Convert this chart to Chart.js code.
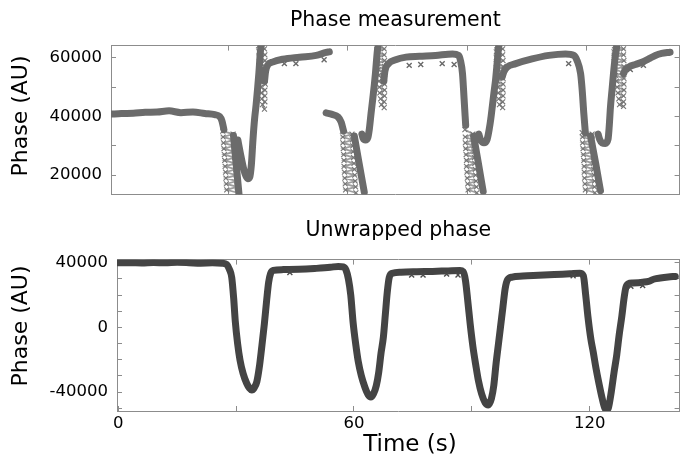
<!DOCTYPE html>
<html>
<head>
<meta charset="utf-8">
<script src="https://cdn.jsdelivr.net/npm/chart.js@4.4.1/dist/chart.umd.min.js"></script>
<style>
  html, body { margin: 0; padding: 0; background: #fff; }
  #wrap { position: relative; width: 685px; height: 461px; overflow: hidden; }
  canvas { position: absolute; left: 0; }
</style>
</head>
<body>
<div id="wrap">
  <canvas id="c1" width="685" height="200" style="top:0"></canvas>
  <canvas id="c2" width="685" height="261" style="top:200px"></canvas>
</div>
<script>
// ---------------- DATA ----------------
// Top panel: wrapped phase, main strands (null = break between strands)
const topStrandT = [
  0.4, 3, 6, 9, 12, 15, 18, 21, 24, 26.5, 27.7, 28.3, 28.8,
  28.8,
  31.2, 31.9, 32.6,
  32.6,
  32.3, 33.0, 33.7, 34.3, 34.8, 35.3, 35.7, 36.1, 36.5, 36.9, 37.3, 37.6, 38.0, 38.2,
  38.2,
  39.0, 39.3, 39.8, 41, 43.6, 47.8, 52, 54.5, 55.3,
  55.3,
  54.5, 56, 57.5, 58.3, 58.9,
  58.9,
  61.6, 62.8, 64.1,
  64.1,
  63.5, 63.8, 64.4, 65.0, 65.4, 65.8, 66.2, 66.6, 66.9, 67.4, 67.6,
  67.6,
  69.0, 69.3, 70.2, 72, 74.6, 78, 82, 86.3, 87.8, 88.3, 88.8, 89.2, 89.6,
  89.6,
  91.6, 92.8, 94.0,
  94.0,
  92.9, 93.3, 94.2, 95.0, 95.5, 95.9, 96.3, 96.7, 97.1, 97.5, 97.8, 97.95,
  97.95,
  98.8, 99.2, 100, 102.2, 106.3, 110.5, 114.7, 116.8, 117.6, 118.5, 118.9, 119.3, 119.7,
  119.7,
  121.0, 122.3, 123.5,
  123.5,
  122.9, 123.3, 123.9, 124.7, 125.4, 125.7, 126.0, 126.4, 126.8, 127.2, 127.6,
  127.6,
  129.3, 129.7, 130.6, 132.3, 133.9, 135.6, 137.3, 138.9, 141
];
const topStrandV = [
  40800, 41000, 41100, 41400, 41500, 41900, 41300, 41500, 41000, 40600, 40000, 38500, 35500,
  null,
  33500, 23500, 13400,
  null,
  32000, 27000, 22500, 19800, 18800, 19400, 23500, 32000, 39000, 44000, 50000, 55000, 62500, 64100,
  null,
  52000, 55500, 57500, 58500, 59500, 60200, 60800, 61800, 62000,
  null,
  41200, 40700, 39800, 38000, 35000,
  null,
  33300, 24000, 14200,
  null,
  34000, 32600, 32000, 32800, 36000, 41000, 45600, 50500, 54600, 62500, 64100,
  null,
  52000, 55500, 58000, 59300, 60200, 60500, 60800, 61300, 60800, 59000, 54600, 46000, 37000,
  null,
  33300, 24000, 14500,
  null,
  34000, 32200, 31000, 32200, 35500, 39000, 43400, 48000, 52300, 58000, 62500, 64100,
  null,
  53500, 55200, 56800, 58000, 59600, 60800, 61300, 60800, 59100, 54600, 49000, 41200, 34400,
  null,
  33300, 24000, 14700,
  null,
  34000, 32200, 31000, 30800, 32200, 36600, 43000, 49000, 55000, 60200, 63800,
  null,
  54600, 55700, 56800, 57700, 58500, 59600, 60800, 61500, 61900
];

// Top panel: noisy (scattered) stretches, null = break
const topNoiseT = [
  28.5, 31.1, 28.6, 31.2, 28.7, 31.3, 28.8, 31.4, 28.9, 31.5, 29.0, 31.7, 29.1, 31.8, 29.2, 31.9, 29.3, 32.0, 29.4, 32.1, 29.5, 32.2,
  32.2,
  37.5, 39.0, 37.6, 39.1, 37.7, 39.1, 37.8, 39.1, 37.9, 39.2, 38.0, 39.2, 38.0, 39.2, 38.1, 39.1, 38.2, 39.1, 38.3, 39.1, 38.5, 39.0,
  39.0,
  58.6, 61.0, 58.7, 61.1, 58.7, 61.2, 58.8, 61.3, 58.9, 61.4, 59.0, 61.5, 59.0, 61.6, 59.1, 61.7, 59.2, 61.8, 59.3, 61.9, 59.4, 62.0,
  62.0,
  67.2, 69.1, 67.3, 69.1, 67.4, 69.2, 67.5, 69.2, 67.6, 69.2, 67.7, 69.2, 67.8, 69.2, 67.9, 69.2, 68.0, 69.2, 68.2, 69.1, 68.4, 69.1,
  69.1,
  89.4, 91.4, 89.5, 91.5, 89.5, 91.6, 89.6, 91.7, 89.7, 91.8, 89.8, 91.9, 89.8, 92.0, 89.9, 92.1, 90.0, 92.2, 90.1, 92.3, 90.2, 92.4,
  92.4,
  97.4, 98.9, 97.3, 98.9, 97.3, 99.0, 97.3, 99.0, 97.4, 99.0, 97.5, 99.0, 97.6, 99.0, 97.7, 99.0, 97.8, 99.0, 97.9, 98.9, 98.1, 98.9,
  98.9,
  118.9, 121.4, 119.0, 121.5, 119.0, 121.5, 119.1, 121.6, 119.2, 121.7, 119.3, 121.7, 119.4, 121.8, 119.4, 121.9, 119.5, 122.0, 119.6, 122.0, 119.7, 122.1,
  122.1,
  127.0, 129.3, 126.9, 129.3, 126.9, 129.4, 127.0, 129.4, 127.1, 129.4, 127.3, 129.4, 127.5, 129.4, 127.7, 129.4, 127.9, 129.3, 128.1, 129.3, 128.3, 129.3
];
const topNoiseV = [
  35000, 34000, 33000, 32000, 31000, 30000, 29000, 28000, 27000, 26000, 25000, 24000, 23000, 22000, 21000, 20000, 19000, 18000, 17000, 16000, 15000, 14000,
  null,
  64000, 63000, 62000, 61000, 60000, 59000, 58000, 57000, 56000, 55000, 54000, 53000, 52000, 51000, 50000, 49000, 48000, 47000, 46000, 45000, 44000, 42500,
  null,
  35000, 34000, 33000, 32000, 31000, 30000, 29000, 28000, 27000, 26000, 25000, 24000, 23000, 22000, 21000, 20000, 19000, 18000, 17000, 16000, 15000, 14000,
  null,
  64000, 63000, 62000, 61000, 60000, 59000, 58000, 57000, 56000, 55000, 54000, 53000, 52000, 51000, 50000, 49000, 48000, 47000, 46000, 45000, 44000, 43000,
  null,
  35500, 34000, 33000, 32000, 31000, 30000, 29000, 28000, 27000, 26000, 25000, 24000, 23000, 22000, 21000, 20000, 19000, 18000, 17000, 16000, 15000, 14000,
  null,
  64000, 63000, 62000, 61000, 60000, 59000, 58000, 57000, 56000, 55000, 54000, 53000, 52000, 51000, 50000, 49000, 48000, 47000, 46000, 45000, 44000, 43000,
  null,
  34500, 34000, 33000, 32000, 31000, 30000, 29000, 28000, 27000, 26000, 25000, 24000, 23000, 22000, 21000, 20000, 19000, 18000, 17000, 16000, 15000, 14000,
  null,
  64000, 63000, 62000, 61000, 60000, 59000, 58000, 57000, 56000, 55000, 54000, 53000, 52000, 51000, 50000, 49000, 48000, 47000, 46000, 45000, 44000, 43400
];

// Top panel: isolated outlier points
const topOutT = [44.0, 46.9, 54.0, 75.4, 78.3, 83.7, 86.7, 115.5, 131.0, 134.3];
const topOutV = [58000, 58000, 59300, 57400, 57700, 58000, 57700, 58000, 56000, 57400];

// Bottom panel: unwrapped phase
const botT = [
  0, 3, 6, 9, 12, 15, 18, 21, 24, 26.5, 27.6, 28.3, 28.9, 29.4, 29.8, 30.4, 31.0, 31.8, 32.7, 33.4,
  34.0, 34.6, 35.3, 35.9, 36.5, 37.2, 37.8, 38.3, 38.8, 39.5, 42, 46, 50, 54, 56, 57.3, 58.0, 58.6,
  59.2, 59.8, 60.5, 61.1, 61.9, 62.8, 63.6, 64.3, 65.0, 65.7, 66.3, 66.9, 67.5, 68.0, 68.5, 69.0,
  69.8, 72, 76, 80, 84, 87, 87.8, 88.4, 89.0, 89.6, 90.3, 91.0, 91.7, 92.5, 93.4, 94.2, 95.0, 95.6,
  96.2, 96.8, 97.3, 97.9, 98.5, 99.1, 100.3, 103, 107, 111, 115, 117.5, 118.4, 119.0, 119.6, 120.3,
  120.9, 121.6, 122.4, 123.2, 123.8, 124.3, 124.8, 125.5, 126.2, 126.9, 127.5, 128.2, 128.7, 129.2,
  129.8, 131, 133.5, 135, 136.5, 138, 140, 141.8
];
const botV = [
  40000, 40100, 39900, 40200, 40000, 40300, 40100, 39800, 40000, 39800, 39000, 36000, 31000, 18000,
  4000, -10000, -20000, -28500, -34500, -37500,
  -38700, -37500, -33500, -25000, -13000, 2000, 17000, 28000, 33500, 35300, 35800, 36000, 36500,
  37200, 37800, 37500, 35500, 30000,
  20000, 3000, -11000, -21000, -30000, -37000, -41500, -43000, -41000, -36000, -28000, -16000,
  -6000, 8000, 22000, 31000,
  33500, 34200, 34500, 34700, 35000, 35200, 34500, 29000, 16000, 2000, -12000, -23000, -33000,
  -41000, -46500, -48000, -44000, -36000,
  -22000, -10000, 0, 12000, 24000, 29500, 31200, 31800, 32300, 32800, 33200, 33500, 32000, 20000,
  6000, -7000,
  -15000, -25000, -35000, -44000, -49500, -51000, -49500, -40000, -28000, -17000, -5000, 7000,
  17000, 24500,
  27000, 27500, 28000, 28500, 30000, 30600, 31200, 31600
];
const botOutT = [43.7, 74.7, 77.6, 83.6, 86.5, 115.8, 130.5, 133.5];
const botOutV = [34000, 32500, 32500, 33000, 32500, 32000, 25500, 26000];

// Ticks and labels
const topXTicks = [30, 60, 90, 120];
const botXTicks = [0, 30, 60, 90, 120];
const xLabeled = [0, 60, 120];
const topYTicks = [20000, 30000, 40000, 50000, 60000];
const topYLabeled = [20000, 40000, 60000];
const botYTicks = [-50000, -40000, -30000, -20000, -10000, 0, 10000, 20000, 30000, 40000];
const botYLabeled = [-40000, 0, 40000];
const yTitle = 'Phase (AU)';
const xTitle = 'Time (s)';

// ---------------- CHARTS ----------------
Chart.defaults.font.family = "'DejaVu Sans', 'Liberation Sans', sans-serif";
Chart.defaults.color = '#000';

const pts = (T, V) => T.map((t, i) => ({ x: t, y: V[i] }));
const FRAME = '#8c8c8c';

function noPad(s) { s.paddingTop = 0; s.paddingBottom = 0; s.paddingLeft = 0; s.paddingRight = 0; }

function axis(pos, min, max, tickVals, size, extra) {
  const horiz = pos === 'top' || pos === 'bottom';
  return Object.assign({
    type: 'linear', position: pos, min: min, max: max,
    afterBuildTicks: s => { s.ticks = tickVals.map(v => ({ value: v })); },
    afterFit: s => { if (horiz) s.height = size; else s.width = size; noPad(s); },
    grid: { display: true, drawOnChartArea: false, drawTicks: true, tickLength: -5, tickColor: FRAME, tickWidth: 1 },
    border: { display: true, color: FRAME, width: 1 },
    ticks: { display: false, autoSkip: false }
  }, extra);
}
const labelCb = list => v => (list.includes(v) ? String(v) : '');
const tickFont = { size: 16.5 };

// axis titles drawn as canvas text at the reference's positions
const axisTitles = {
  id: 'axisTitles',
  afterDraw(chart, args, opts) {
    const ctx = chart.ctx;
    (opts.items || []).forEach(it => {
      ctx.save();
      ctx.fillStyle = '#000';
      ctx.font = it.size + "px 'DejaVu Sans', sans-serif";
      ctx.textAlign = 'center';
      ctx.textBaseline = 'middle';
      ctx.translate(it.x, it.y);
      if (it.rot) ctx.rotate(it.rot);
      ctx.fillText(it.text, 0, 0);
      ctx.restore();
    });
  }
};

// Top chart
new Chart(document.getElementById('c1'), {
  type: 'line',
  plugins: [axisTitles],
  data: {
    datasets: [
      { data: pts(topOutT, topOutV), showLine: false, pointStyle: 'crossRot', pointRadius: 3.5,
        pointBorderWidth: 1.4, pointBorderColor: '#6a6a6a', clip: 0 },
      { data: pts(topStrandT, topStrandV), borderColor: '#6b6b6b', borderWidth: 7, pointRadius: 0,
        cubicInterpolationMode: 'monotone', borderCapStyle: 'round', borderJoinStyle: 'round', spanGaps: false, clip: 0 },
      { data: pts(topNoiseT, topNoiseV), borderColor: 'rgba(140,140,140,0.85)', borderWidth: 1.8, tension: 0,
        pointStyle: 'crossRot', pointRadius: 3.5, pointBorderWidth: 1.1, pointBorderColor: '#767676',
        spanGaps: false, clip: 0 }
    ]
  },
  options: {
    responsive: false, animation: false, devicePixelRatio: 1,
    layout: { padding: 0 },
    plugins: {
      legend: { display: false }, tooltip: { enabled: false },
      title: { display: true, fullSize: false, text: 'Phase measurement', color: '#000',
        font: { size: 20.5, weight: 'normal' }, padding: { top: 8, bottom: 13 } },
      axisTitles: { items: [{ text: yTitle, x: 21, y: 116, rot: -Math.PI / 2, size: 22 }] }
    },
    scales: {
      x: axis('bottom', 0.4, 143.4, topXTicks, 4, {}),
      x2: axis('top', 0.4, 143.4, topXTicks, 0, {}),
      y: axis('left', 13370, 64140, topYTicks, 111, {
        ticks: { display: true, autoSkip: false, callback: labelCb(topYLabeled), font: tickFont, color: '#000', padding: 14 }
      }),
      y2: axis('right', 13370, 64140, topYTicks, 4, {})
    }
  }
});

// Bottom chart
new Chart(document.getElementById('c2'), {
  type: 'line',
  plugins: [axisTitles],
  data: {
    datasets: [
      { data: pts(botOutT, botOutV), showLine: false, pointStyle: 'crossRot', pointRadius: 3.5,
        pointBorderWidth: 1.4, pointBorderColor: '#4a4a4a', clip: 0 },
      { data: pts(botT, botV), borderColor: '#444444', borderWidth: 7, pointRadius: 0,
        cubicInterpolationMode: 'monotone', borderCapStyle: 'round', borderJoinStyle: 'round', clip: 0 }
    ]
  },
  options: {
    responsive: false, animation: false, devicePixelRatio: 1,
    layout: { padding: 0 },
    plugins: {
      legend: { display: false }, tooltip: { enabled: false },
      title: { display: true, fullSize: false, text: 'Unwrapped phase', color: '#000',
        font: { size: 20.5, weight: 'normal' }, padding: { top: 18, bottom: 17 } },
      axisTitles: { items: [
        { text: yTitle, x: 21, y: 126, rot: -Math.PI / 2, size: 22 },
        { text: xTitle, x: 410, y: 245, rot: 0, size: 23 }
      ] }
    },
    scales: {
      x: axis('bottom', -0.3, 142.9, botXTicks, 50, {
        ticks: { display: true, autoSkip: false, maxRotation: 0, callback: labelCb(xLabeled), font: tickFont, color: '#000', padding: 8 }
      }),
      x2: axis('top', -0.3, 142.9, botXTicks, 0, {}),
      y: axis('left', -51700, 42000, botYTicks, 117, {
        ticks: { display: true, autoSkip: false, callback: labelCb(botYLabeled), font: tickFont, color: '#000', padding: 14 }
      }),
      y2: axis('right', -51700, 42000, botYTicks, 5, {})
    }
  }
});
</script>
</body>
</html>
